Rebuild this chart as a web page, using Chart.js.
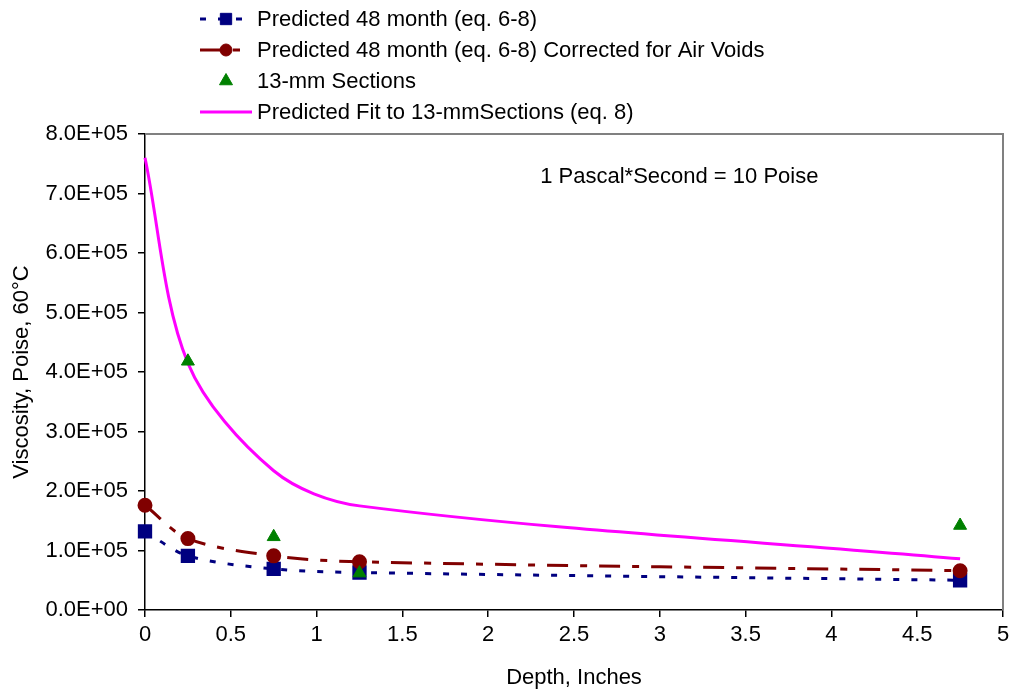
<!DOCTYPE html>
<html>
<head>
<meta charset="utf-8">
<script src="https://cdn.jsdelivr.net/npm/chart.js@4.4.1/dist/chart.umd.min.js"></script>
<style>
    html, body { margin: 0; padding: 0; background: #fff; }
    #wrap { width: 1016px; height: 694px; position: relative; }
</style>
</head>
<body>
<div id="wrap"><canvas id="viscosityChart"></canvas></div>
<script>
// depths (inches) at which the predictions were made
const depths = [0, 0.25, 0.75, 1.25, 4.75];
const predicted48 = [132000, 91000, 69000, 63000, 50000];
const corrected48 = [176000, 120000, 91000, 81000, 66000];
const fit13 = [760000, 415000, 234000, 175000, 86000];

// measured 13-mm sections
const sectionDepths = [0.25, 0.75, 1.25, 4.75];
const sections13 = [418000, 123000, 62000, 142000];

const seriesLabels = [
    'Predicted 48 month (eq. 6-8)',
    'Predicted 48 month (eq. 6-8) Corrected for Air Voids',
    '13-mm Sections',
    'Predicted Fit to 13-mmSections (eq. 8)'
];
const noteText = '1 Pascal*Second = 10 Poise';
const xTitle = 'Depth, Inches';
const yTitle = 'Viscosity, Poise, 60\u00b0C';

const FONT = 'Arial, "Liberation Sans", sans-serif';
const FONT_SIZE = 22;

const toPoints = (xs, ys) => xs.map((x, i) => ({ x: x, y: ys[i] }));

// 8.0E+05 style labels
const sciLabel = v => {
    if (v === 0) return '0.0E+00';
    const e = Math.floor(Math.log10(Math.abs(v)) + 1e-9);
    const m = v / Math.pow(10, e);
    return m.toFixed(1) + 'E' + (e < 0 ? '-' : '+') + String(Math.abs(e)).padStart(2, '0');
};

// plot frame: grey top and right edges
const frameLines = {
    id: 'frameLines',
    beforeDatasetsDraw(chart) {
        const { ctx, chartArea: a } = chart;
        ctx.save();
        ctx.strokeStyle = '#808080';
        ctx.lineWidth = 2;
        ctx.beginPath();
        ctx.moveTo(a.left, a.top);
        ctx.lineTo(a.right, a.top);
        ctx.lineTo(a.right, a.bottom);
        ctx.stroke();
        ctx.restore();
    }
};

// note placed in data coordinates
const noteLabel = {
    id: 'noteLabel',
    afterDraw(chart) {
        const { ctx, scales } = chart;
        ctx.save();
        ctx.font = FONT_SIZE + 'px ' + FONT;
        ctx.fillStyle = '#000';
        ctx.textAlign = 'left';
        ctx.textBaseline = 'middle';
        ctx.fillText(noteText, scales.x.getPixelForValue(2.303), scales.y.getPixelForValue(727000));
        ctx.restore();
    }
};

// stacked legend at the top, drawn from the dataset styles
const columnLegend = {
    id: 'columnLegend',
    afterDraw(chart) {
        const ctx = chart.ctx;
        const left = 200, sample = 52, textX = 257, top = 19, gap = 31;
        chart.data.datasets.forEach((ds, i) => {
            const y = top + i * gap;
            ctx.save();
            if (ds.showLine !== false) {
                ctx.strokeStyle = ds.borderColor;
                ctx.lineWidth = ds.borderWidth;
                ctx.setLineDash(ds.borderDash || []);
                ctx.beginPath();
                ctx.moveTo(left, y);
                ctx.lineTo(left + sample, y);
                ctx.stroke();
            }
            if (ds.pointRadius > 0) {
                ctx.setLineDash([]);
                ctx.fillStyle = ds.pointBackgroundColor;
                ctx.strokeStyle = ds.pointBorderColor;
                ctx.lineWidth = 1;
                Chart.helpers.drawPoint(ctx, {
                    pointStyle: ds.pointStyle, radius: ds.pointRadius, rotation: 0, borderWidth: 1
                }, left + sample / 2, y);
            }
            ctx.font = FONT_SIZE + 'px ' + FONT;
            ctx.fillStyle = '#000';
            ctx.textAlign = 'left';
            ctx.textBaseline = 'middle';
            ctx.fillText(seriesLabels[i], textX, y + 1);
            ctx.restore();
        });
    }
};

new Chart(document.getElementById('viscosityChart'), {
    type: 'scatter',
    data: {
        datasets: [
            {
                label: seriesLabels[0],
                data: toPoints(depths, predicted48),
                showLine: true,
                borderColor: '#000080',
                borderWidth: 3,
                borderDash: [6, 12],
                tension: 0.32,
                pointStyle: 'rect',
                pointRadius: 8,
                pointBackgroundColor: '#000080',
                pointBorderColor: '#000080',
                clip: false,
                order: 3
            },
            {
                label: seriesLabels[1],
                data: toPoints(depths, corrected48),
                showLine: true,
                borderColor: '#800000',
                borderWidth: 3,
                borderDash: [21, 12, 7, 12],
                tension: 0.32,
                pointStyle: 'circle',
                pointRadius: 6,
                pointBackgroundColor: '#800000',
                pointBorderColor: '#800000',
                clip: false,
                order: 2
            },
            {
                label: seriesLabels[2],
                data: toPoints(sectionDepths, sections13),
                showLine: false,
                borderColor: '#008000',
                pointStyle: 'triangle',
                pointRadius: 7.5,
                pointBackgroundColor: '#008000',
                pointBorderColor: '#008000',
                clip: false,
                order: 1
            },
            {
                label: seriesLabels[3],
                data: toPoints(depths, fit13),
                showLine: true,
                borderColor: '#ff00ff',
                borderWidth: 3,
                tension: 0.32,
                pointRadius: 0,
                pointHoverRadius: 0,
                clip: false,
                order: 4
            }
        ]
    },
    options: {
        responsive: true,
        maintainAspectRatio: false,
        animation: false,
        layout: { padding: { top: 134, right: 13, left: 0, bottom: 0 } },
        plugins: {
            legend: { display: false },
            tooltip: { enabled: false }
        },
        scales: {
            x: {
                type: 'linear',
                min: 0,
                max: 5,
                afterFit: s => { s.height = 84; },
                ticks: { stepSize: 0.5, color: '#000', font: { size: FONT_SIZE, family: FONT }, padding: 5, callback: v => String(v) },
                grid: { drawOnChartArea: false, drawTicks: true, tickLength: 7, color: '#000', lineWidth: 1.5 },
                border: { color: '#000', width: 1.5 },
                title: { display: true, text: xTitle, color: '#000', font: { size: FONT_SIZE, family: FONT }, padding: { top: 0, bottom: 3 } }
            },
            y: {
                min: 0,
                max: 800000,
                afterFit: s => { s.width = 145; },
                ticks: { stepSize: 100000, color: '#000', font: { size: FONT_SIZE, family: FONT }, padding: 10, callback: v => sciLabel(v) },
                grid: { drawOnChartArea: false, drawTicks: true, tickLength: 7, color: '#000', lineWidth: 1.5 },
                border: { color: '#000', width: 1.5 },
                title: { display: true, text: yTitle, color: '#000', font: { size: FONT_SIZE, family: FONT }, padding: { top: 9, bottom: 0 } }
            }
        }
    },
    plugins: [frameLines, noteLabel, columnLegend]
});
</script>
</body>
</html>
